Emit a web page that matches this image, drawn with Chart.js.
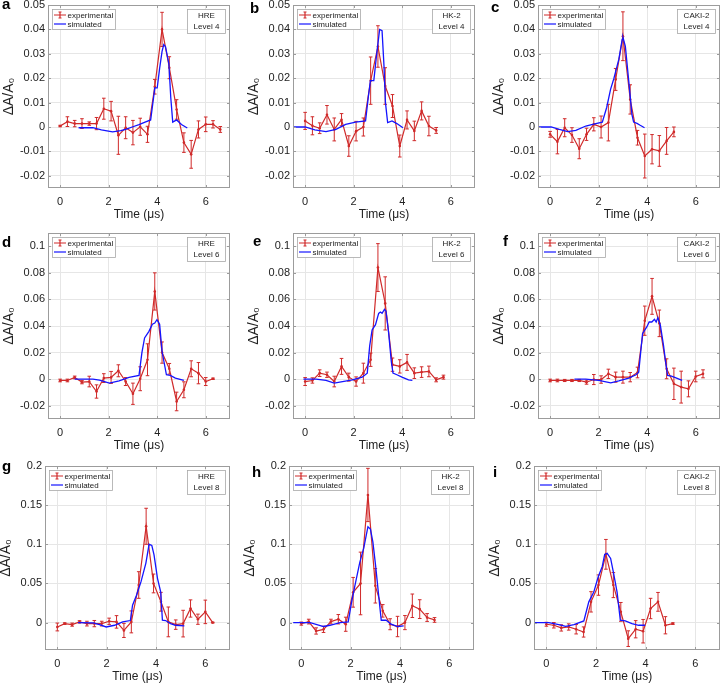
<!DOCTYPE html>
<html><head><meta charset="utf-8">
<script src="https://cdn.jsdelivr.net/npm/chart.js@4.4.1/dist/chart.umd.min.js"></script>
<style>
html,body{margin:0;padding:0;background:#fff;overflow:hidden;width:724px;height:684px}
#wrap{position:relative;width:724px;height:684px;overflow:hidden}
#wrap canvas{position:absolute}
.lbl{position:absolute;font:bold 15px "Liberation Sans",Arial,sans-serif;line-height:16px;color:#000}
</style></head><body><div id="wrap"></div>
<script>
// ---------- data ----------
const expTime = [0,0.3,0.6,0.9,1.2,1.5,1.8,2.1,2.4,2.7,3.0,3.3,3.6,3.9,4.2,4.5,4.8,5.1,5.4,5.7,6.0,6.3,6.6];
const xTicks = [0,2,4,6];
const yTicksRow1 = [-0.02,-0.01,0,0.01,0.02,0.03,0.04,0.05];
const yTicksRow2 = [-0.02,0,0.02,0.04,0.06,0.08,0.1];
const yTicksRow3 = [0,0.05,0.1,0.15,0.2];
const cellLines = ['HRE','HK-2','CAKI-2'];
const levelLines = ['Level 4','Level 6','Level 8'];
const panelLetters = ['a','b','c','d','e','f','g','h','i'];

// a: HRE level 4
const aExpY = [0.0004,0.0022,0.0014,0.0014,0.0014,0.0014,0.0075,0.0065,-0.0034,-0.0003,-0.0023,0.0001,-0.003,0.0165,0.040,0.0243,0.0072,-0.0064,-0.0112,-0.001,0.0011,0.0011,-0.001];
const aExpErr = [0.0003,0.002,0.0013,0.002,0.0007,0.0025,0.0043,0.004,0.0078,0.0045,0.005,0.0035,0.0033,0.003,0.007,0.0045,0.004,0.004,0.0057,0.0035,0.003,0.0015,0.0012];
const aSimX = [0.76,1.0,1.35,1.7,2.16,2.5,2.7,3.0,3.25,3.5,3.73,3.85,3.9,4.0,4.1,4.2,4.27,4.34,4.48,4.56,4.64,4.8,5.0,5.24];
const aSimY = [-0.0003,-0.0003,-0.0003,-0.0012,-0.002,-0.0015,-0.001,0.0001,0.001,0.002,0.0029,0.012,0.016,0.016,0.024,0.031,0.0338,0.033,0.026,0.012,0.002,0.0029,0.001,-0.0004];
// b: HK-2 level 4
const bExpY = [0.0025,0.0005,-0.0005,0.005,-0.001,0.003,-0.0078,-0.0017,0.0,0.019,0.033,0.0168,0.0086,-0.0078,0.0029,-0.0016,0.0066,0.0004,-0.0014];
const bExpErr = [0.0035,0.0037,0.0022,0.0038,0.0047,0.0025,0.0042,0.004,0.0037,0.0097,0.0085,0.0075,0.0047,0.0045,0.0037,0.004,0.0037,0.004,0.0012];
const bSimX = [-0.46,0,0.4,0.86,1.27,1.67,2.08,2.49,2.6,2.69,2.83,2.95,3.07,3.17,3.25,3.31,3.4,3.58,3.78,4.03];
const bSimY = [0,0,-0.0012,-0.0019,-0.001,0.0011,0.002,0.0025,0.012,0.019,0.019,0.03,0.040,0.0395,0.025,0.01,0.0018,0.0025,0.0014,-0.0003];
// c: CAKI-2 level 4
const cExpY = [-0.003,-0.006,-0.0003,-0.0033,-0.0089,-0.003,0.0011,0.0,0.0018,0.0195,0.0372,0.0113,-0.0044,-0.0119,-0.0091,-0.0098,-0.0057,-0.002];
const cExpErr = [0.0012,0.005,0.0037,0.003,0.0041,0.0025,0.0027,0.0045,0.0075,0.0045,0.0100,0.006,0.003,0.009,0.006,0.0063,0.0055,0.002];
const cSimX = [-0.46,0.04,0.38,0.72,1.06,1.47,1.88,2.15,2.33,2.49,2.63,2.83,2.97,3.0,3.1,3.24,3.37,3.44,3.58,3.71,3.89];
const cSimY = [0,0,-0.001,-0.0019,-0.0014,0.0004,0.0014,0.002,0.008,0.0154,0.02,0.0277,0.0359,0.0368,0.033,0.0188,0.0052,0.002,0.0015,0.0007,-0.0003];
// d: HRE level 6
const dExpY = [-0.001,-0.001,0.0013,-0.0023,-0.0018,-0.0093,0.0008,0.0013,0.0063,-0.0018,-0.011,0.0003,0.0146,0.066,0.02,0.0078,-0.0168,-0.008,0.0078,0.0045,-0.0018,0.0003];
const dExpErr = [0.001,0.001,0.001,0.0012,0.004,0.005,0.0033,0.0045,0.0045,0.003,0.008,0.009,0.012,0.014,0.008,0.004,0.007,0.006,0.006,0.008,0.003,0.0005];
const dSimX = [0.6,1.35,1.62,2.03,2.43,2.84,3.25,3.37,3.48,3.66,3.8,3.9,3.99,4.1,4.2,4.38,4.54,4.75,5.1];
const dSimY = [0,0,-0.0008,-0.003,-0.0013,0.0013,0.0028,0.02,0.031,0.036,0.0414,0.0422,0.0447,0.0414,0.0208,0.0033,0.0028,0.0008,-0.001];
// e: HK-2 level 6
const eExpY = [-0.0018,-0.001,0.0045,0.0033,-0.0018,0.0096,0.0015,-0.0018,0.0045,0.0146,0.084,0.057,0.0109,0.0096,0.0126,0.0045,0.0053,0.0058,-0.0005,0.0015];
const eExpErr = [0.003,0.002,0.0025,0.002,0.004,0.006,0.003,0.0035,0.0075,0.005,0.018,0.02,0.005,0.005,0.006,0.004,0.004,0.004,0.0015,0.0015];
const eSimX = [-0.07,0.45,0.86,1.2,1.54,1.95,2.35,2.56,2.66,2.76,2.9,3.03,3.1,3.17,3.27,3.33,3.44,3.55,3.62,3.78,3.99,4.26,4.42];
const eSimY = [0,0,-0.001,-0.003,-0.0018,-0.0005,0.0015,0.0045,0.025,0.037,0.041,0.0495,0.0505,0.0495,0.0525,0.0512,0.035,0.0134,0.0045,0.0033,0.0015,-0.0005,-0.001];
// f: CAKI-2 level 6
const fExpY = [-0.001,-0.001,-0.001,-0.001,-0.001,-0.0023,-0.0003,-0.0003,0.004,0.0015,0.0015,0.0015,0.005,0.044,0.0623,0.042,0.0078,-0.0035,-0.006,-0.0073,0.002,0.004];
const fExpErr = [0.001,0.001,0.0008,0.0008,0.0008,0.0015,0.0038,0.0028,0.0035,0.0038,0.0045,0.0035,0.004,0.011,0.0135,0.01,0.0075,0.0118,0.012,0.006,0.004,0.003];
const fSimX = [1.0,1.47,2.0,2.5,2.83,3.24,3.54,3.65,3.73,3.81,3.99,4.08,4.19,4.3,4.37,4.44,4.54,4.67,4.76,4.84,5.0,5.21,5.44];
const fSimY = [0,0,-0.001,-0.0028,-0.0013,0.0008,0.0033,0.0053,0.02,0.0344,0.0395,0.043,0.043,0.045,0.043,0.0463,0.0408,0.0256,0.0129,0.0028,0.0023,0.0008,-0.001];
// g: HRE level 8
const gExpY = [-0.0056,-0.0013,-0.0026,0.0009,-0.0013,-0.0013,-0.0013,0.0017,0.0009,-0.01,0.0009,0.048,0.123,0.05,0.0266,0.0009,-0.0026,-0.0013,0.018,0.0043,0.0137,0];
const gExpErr = [0.005,0.001,0.002,0.0015,0.003,0.004,0.003,0.004,0.008,0.009,0.014,0.017,0.023,0.012,0.012,0.019,0.006,0.017,0.011,0.0065,0.015,0.0005];
const gSimX = [0.84,1.45,1.71,1.98,2.32,2.65,2.96,3.05,3.21,3.39,3.59,3.72,3.83,3.92,4.06,4.19,4.26,4.39,4.59,4.79,5.15];
const gSimY = [0,-0.0004,-0.0026,-0.0056,-0.0034,0.0009,0.0026,0.0223,0.035,0.052,0.076,0.1,0.0985,0.0865,0.0565,0.0394,0.003,0.0026,-0.0013,-0.0034,-0.0043];
// h: HK-2 level 8
const hExpY = [-0.0013,0.0013,-0.0107,-0.0086,0.0013,0.0043,-0.0021,0.0387,0.05,0.163,0.047,0.015,-0.0021,-0.005,0,0.0215,0.0172,0.0065,0.0034];
const hExpErr = [0.002,0.003,0.004,0.004,0.003,0.006,0.009,0.019,0.04,0.034,0.022,0.008,0.007,0.013,0.009,0.015,0.012,0.005,0.003];
const hSimX = [-0.33,0.36,0.9,1.16,1.57,1.9,2.03,2.17,2.37,2.53,2.7,2.8,2.9,3.01,3.15,3.24,3.44,3.64,3.91,4.15];
const hSimY = [0,0,-0.005,-0.0034,0,0.0009,0.025,0.047,0.077,0.095,0.1225,0.1195,0.103,0.073,0.03,0.003,0.003,-0.0021,-0.005,-0.0043];
// i: CAKI-2 level 8
const iExpY = [-0.0021,-0.0034,-0.0068,-0.0056,-0.0085,-0.012,0.0265,0.0479,0.0872,0.0479,0.0137,-0.0205,-0.0085,-0.011,0.018,0.0265,-0.0034,-0.0013];
const iExpErr = [0.0025,0.0035,0.004,0.004,0.006,0.0065,0.013,0.013,0.019,0.016,0.012,0.01,0.011,0.015,0.013,0.012,0.011,0.001];
const iSimX = [-0.5,0.1,0.5,0.78,1.11,1.51,1.71,1.91,2.09,2.25,2.35,2.45,2.59,2.71,2.85,2.98,3.18,3.45,3.72,3.98];
const iSimY = [0,0,-0.0026,-0.0047,-0.0026,0.0021,0.0265,0.039,0.0585,0.0714,0.087,0.0885,0.082,0.0628,0.039,0.003,0.0021,-0.0013,-0.0034,-0.0034];

// ---------- layout / style ----------
const FONT = '"Liberation Sans", Arial, Helvetica, sans-serif';
const RED = '#d02a2a';
const BLUE = '#1414ff';
const rowRects = [[5,188],[233,419],[466,650]];
const colRects = [[[48,232],[293,477],[538,722]],[[48,232],[293,477],[538,722]],[[45,232],[289,476],[534,722]]];
const rowYRange = [[-0.025,0.05],[-0.03,0.11],[-0.035,0.2]];
const rowYTicks = [yTicksRow1, yTicksRow2, yTicksRow3];
const letterPos = [[2,9],[250,12.5],[491,12],[2,246.5],[253,246],[503,246],[2,471],[252,476.5],[493,476.5]];

const series = [
  [aExpY,aExpErr,aSimX,aSimY],[bExpY,bExpErr,bSimX,bSimY],[cExpY,cExpErr,cSimX,cSimY],
  [dExpY,dExpErr,dSimX,dSimY],[eExpY,eExpErr,eSimX,eSimY],[fExpY,fExpErr,fSimX,fSimY],
  [gExpY,gExpErr,gSimX,gSimY],[hExpY,hExpErr,hSimX,hSimY],[iExpY,iExpErr,iSimX,iSimY]
];

const fmt = v => String(Math.round(v*1000)/1000);

const deco = {
  id: 'deco',
  beforeDatasetsDraw(chart, args, o) {
    const {ctx, scales:{x, y}} = chart;
    const pts = chart.data.datasets[0].data;
    ctx.save();
    ctx.strokeStyle = RED; ctx.lineWidth = 1;
    pts.forEach((p, i) => {
      const px = x.getPixelForValue(p.x);
      const y1 = y.getPixelForValue(p.y - o.err[i]);
      const y2 = y.getPixelForValue(p.y + o.err[i]);
      ctx.beginPath();
      ctx.moveTo(px, y1); ctx.lineTo(px, y2);
      ctx.moveTo(px-1.8, y1); ctx.lineTo(px+1.8, y1);
      ctx.moveTo(px-1.8, y2); ctx.lineTo(px+1.8, y2);
      ctx.stroke();
    });
    ctx.restore();
  },
  afterDraw(chart, args, o) {
    const {ctx, chartArea: ca, scales:{x, y}} = chart;
    ctx.save();
    const L = Math.round(ca.left)+0.5, R = Math.round(ca.right)-0.5;
    const T = Math.round(ca.top)+0.5, B = Math.round(ca.bottom)-0.5;
    ctx.strokeStyle = '#9c9c9c'; ctx.lineWidth = 1;
    ctx.strokeRect(L, T, R-L, B-T);
    ctx.beginPath();
    x.ticks.forEach(t => {
      const px = Math.round(x.getPixelForValue(t.value))+0.5;
      ctx.moveTo(px, B); ctx.lineTo(px, B-2.5);
      ctx.moveTo(px, T); ctx.lineTo(px, T+2.5);
    });
    y.ticks.forEach(t => {
      const py = Math.round(y.getPixelForValue(t.value))+0.5;
      ctx.moveTo(L, py); ctx.lineTo(L+2.5, py);
      ctx.moveTo(R, py); ctx.lineTo(R-2.5, py);
    });
    ctx.stroke();
    // legend
    ctx.font = '8px ' + FONT;
    const tw = Math.max(ctx.measureText('experimental').width, ctx.measureText('simulated').width);
    const lx = Math.round(ca.left)+4.5, ly = Math.round(ca.top)+4.5;
    const lw = Math.round(tw + 17), lh = 20;
    ctx.fillStyle = '#fff'; ctx.fillRect(lx, ly, lw, lh);
    ctx.strokeStyle = '#a8a8a8'; ctx.lineWidth = 0.8; ctx.strokeRect(lx, ly, lw, lh);
    const r1 = ly + 5.5, r2 = ly + 14.5;
    ctx.lineWidth = 1.2;
    ctx.strokeStyle = RED; ctx.beginPath();
    ctx.moveTo(lx+1.5, r1); ctx.lineTo(lx+13.5, r1);
    ctx.moveTo(lx+7.5, r1-3); ctx.lineTo(lx+7.5, r1+3);
    ctx.moveTo(lx+6, r1-3); ctx.lineTo(lx+9, r1-3);
    ctx.moveTo(lx+6, r1+3); ctx.lineTo(lx+9, r1+3);
    ctx.stroke();
    ctx.strokeStyle = BLUE; ctx.beginPath();
    ctx.moveTo(lx+1.5, r2); ctx.lineTo(lx+13.5, r2); ctx.stroke();
    ctx.fillStyle = '#222'; ctx.textBaseline = 'middle'; ctx.textAlign = 'left';
    ctx.fillText('experimental', lx+15, r1+0.5);
    ctx.fillText('simulated', lx+15, r2+0.5);
    // annotation box
    const aw = 38, ah = 24;
    const ax = Math.round(ca.right) - 5 - aw + 0.5, ay = Math.round(ca.top) + 4.5;
    ctx.fillStyle = '#fff'; ctx.fillRect(ax, ay, aw, ah);
    ctx.strokeStyle = '#a8a8a8'; ctx.lineWidth = 0.8; ctx.strokeRect(ax, ay, aw, ah);
    ctx.fillStyle = '#222'; ctx.textAlign = 'center';
    ctx.fillText(o.note[0], ax + aw/2, ay + 6.5);
    ctx.fillText(o.note[1], ax + aw/2, ay + 17.5);
    ctx.restore();
  }
};

const wrap = document.getElementById('wrap');
const LW = 52, TP = 12, RP = 2, BH = 34;

series.forEach((s, k) => {
  const row = Math.floor(k/3), col = k % 3;
  const [pl, pr] = colRects[row][col];
  const [pt, pb] = rowRects[row];
  const [expY, expErr, simX, simY] = s;
  const w = pr - pl + LW + RP, h = pb - pt + TP + BH;
  const cv = document.createElement('canvas');
  cv.width = w; cv.height = h;
  cv.style.left = (pl - LW) + 'px'; cv.style.top = (pt - TP) + 'px';
  cv.style.width = w + 'px'; cv.style.height = h + 'px';
  wrap.appendChild(cv);

  const expPts = expY.map((v, i) => ({x: expTime[i], y: v}));
  const simPts = simY.map((v, i) => ({x: simX[i], y: v}));
  const yt = rowYTicks[row];

  new Chart(cv, {
    type: 'line',
    data: { datasets: [
      {label:'experimental', data: expPts, borderColor: RED, backgroundColor: RED, borderWidth: 1.2,
       pointRadius: 1.3, pointBorderWidth: 0, pointBackgroundColor: RED, tension: 0, order: 1},
      {label:'simulated', data: simPts, borderColor: BLUE, backgroundColor: BLUE, borderWidth: 1.3,
       pointRadius: 0, tension: 0, order: 0}
    ]},
    options: {
      responsive: false, animation: false, devicePixelRatio: 1,
      layout: { padding: {left: 0, top: TP, right: RP, bottom: 0} },
      plugins: { legend: {display: false}, tooltip: {enabled: false},
                 deco: { err: expErr, note: [cellLines[col], levelLines[row]] } },
      scales: {
        x: { type: 'linear', min: -0.5, max: 7,
             afterBuildTicks: sc => { sc.ticks = xTicks.map(v => ({value: v})); },
             afterFit: sc => { sc.height = BH; },
             grid: {color: '#e6e6e6', drawTicks: false, lineWidth: 1},
             border: {display: false},
             ticks: {padding: 7, color: '#222', maxRotation: 0, font: {family: FONT, size: 11}, callback: v => fmt(v)},
             title: {display: true, text: 'Time (μs)', color: '#222', font: {family: FONT, size: 12}, padding: {top: 0, bottom: 0}} },
        y: { type: 'linear', min: rowYRange[row][0], max: rowYRange[row][1],
             afterBuildTicks: sc => { sc.ticks = yt.map(v => ({value: v})); },
             afterFit: sc => { sc.width = LW; },
             grid: {color: '#e6e6e6', drawTicks: false, lineWidth: 1},
             border: {display: false},
             ticks: {padding: 3, color: '#222', font: {family: FONT, size: 11}, callback: v => fmt(v)},
             title: {display: true, text: 'ΔA/A₀', color: '#222', font: {family: FONT, size: 14}, padding: {top: 5, bottom: 0}} }
      }
    },
    plugins: [deco]
  });

  const d = document.createElement('div');
  d.className = 'lbl';
  d.textContent = panelLetters[k];
  d.style.left = letterPos[k][0] + 'px';
  d.style.top = (letterPos[k][1] - 13) + 'px';
  wrap.appendChild(d);
});
</script></body></html>
